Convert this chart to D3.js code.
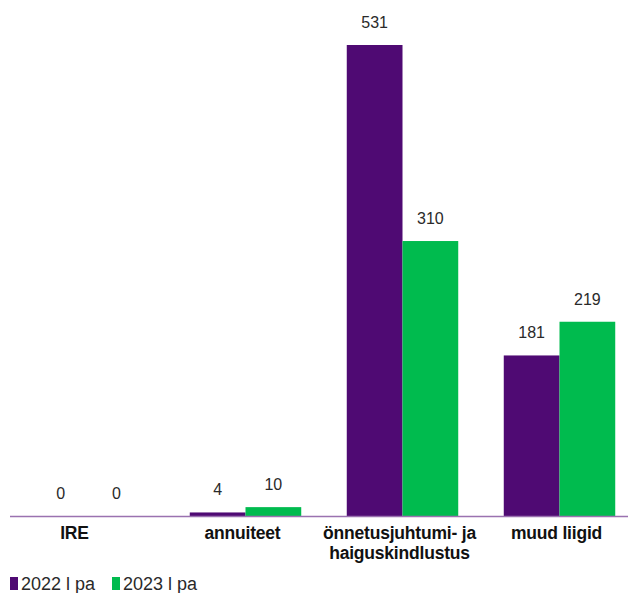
<!DOCTYPE html>
<html><head><meta charset="utf-8">
<script src="https://cdn.jsdelivr.net/npm/d3@7"></script>
<style>body{margin:0;background:#fff}svg{display:block}</style>
</head><body><svg id="c" width="628" height="593"></svg>
<script>
const categories = [["IRE"], ["annuiteet"], ["önnetusjuhtumi- ja", "haiguskindlustus"], ["muud liigid"]];
const series = ["2022 l pa", "2023 l pa"];
const values2022 = [0, 4, 531, 181];
const values2023 = [0, 10, 310, 219];
const colors = ["#4f0a73", "#00bb4e"];

const svg = d3.select("#c");
const x0 = d3.scaleBand().domain(d3.range(categories.length)).range([10, 638]).paddingInner(0.29).paddingOuter(0.145);
const x1 = d3.scaleBand().domain(series).range([0, x0.bandwidth()]);
const y = d3.scaleLinear().domain([0, 531]).range([516, 45]);

const data = categories.map((c, i) => ({i, vals: [values2022[i], values2023[i]]}));
const g = svg.selectAll("g.grp").data(data).join("g").attr("transform", d => `translate(${x0(d.i)},0)`);
g.selectAll("rect").data(d => d.vals.map((v, k) => ({v, k}))).join("rect")
  .attr("x", d => x1(series[d.k])).attr("width", x1.bandwidth())
  .attr("y", d => y(d.v)).attr("height", d => y(0) - y(d.v))
  .attr("fill", d => colors[d.k]);
g.selectAll("text").data(d => d.vals.map((v, k) => ({v, k}))).join("text")
  .attr("x", d => x1(series[d.k]) + x1.bandwidth() / 2).attr("y", d => y(d.v) - 17)
  .attr("text-anchor", "middle").attr("font-family", "'Liberation Sans', Arial, sans-serif").attr("font-size", 16)
  .attr("fill", "#2a2a2a").text(d => d.v);

svg.append("line").attr("x1", 10).attr("x2", 628).attr("y1", 516.5).attr("y2", 516.5)
  .attr("stroke", "#9a72b0").attr("stroke-width", 1.5);

const labelX = (i) => x0(i) + x0.bandwidth() / 2 - (i === 0 ? 14 : 3);
const lab = svg.selectAll("text.cat").data(categories).join("text").attr("class", "cat")
  .attr("x", (d, i) => labelX(i)).attr("y", 539)
  .attr("text-anchor", "middle").attr("font-family", "'Liberation Sans', Arial, sans-serif").attr("font-weight", "bold")
  .attr("font-size", 17.5).attr("fill", "#111").attr("letter-spacing", -0.2);
lab.selectAll("tspan").data(d => d).join("tspan")
  .attr("x", function() { return this.parentNode.getAttribute("x"); })
  .attr("dy", (d, j) => j === 0 ? 0 : 19.5).text(d => d);

const leg = svg.selectAll("g.leg").data(series).join("g").attr("class", "leg")
  .attr("transform", (d, i) => `translate(${10 + i * 102},577)`);
leg.append("rect").attr("width", 8).attr("height", 13).attr("fill", (d, i) => colors[i]);
leg.append("text").attr("x", 11).attr("y", 13).attr("font-family", "'Liberation Sans', Arial, sans-serif")
  .attr("font-size", 18).attr("fill", "#2a2a2a").text(d => d);
</script></body></html>
